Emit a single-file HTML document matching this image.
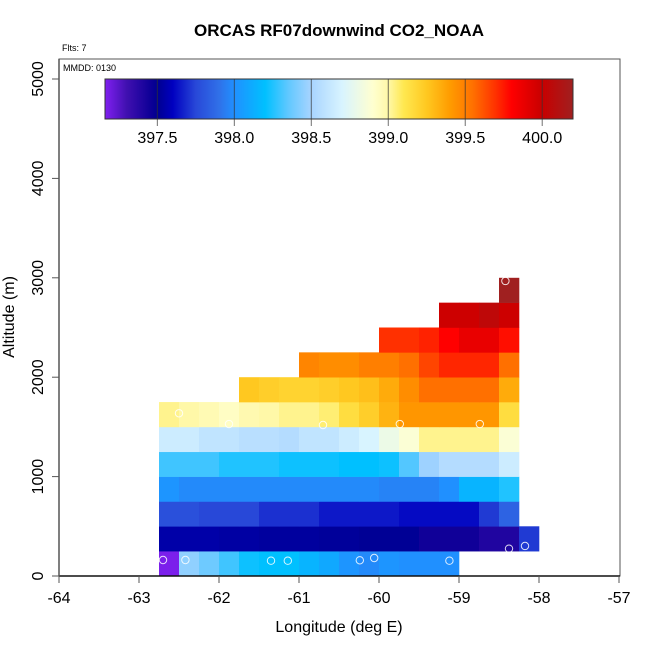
<!DOCTYPE html>
<html><head><meta charset="utf-8"><style>
body{margin:0;background:#fff}
svg text{font-family:"Liberation Sans",sans-serif}
</style></head><body>
<svg id="c" width="650" height="650" xmlns="http://www.w3.org/2000/svg"></svg>
<script>
const lonTicks=[-64,-63,-62,-61,-60,-59,-58,-57];
const altTicks=[0,1000,2000,3000,4000,5000];
const cbTicks=["397.5","398.0","398.5","399.0","399.5","400.0"];
const lonStart=-62.75;
const rowStartCol=[0,0,0,0,0,0,0,4,7,11,14,17];
const row0=[397.17,398.45,398.38,398.3,398.22,398.2,398.2,398.15,398.1,398.02,397.98,398.02,398.0,398.0,398.0];
const row1=[397.55,397.55,397.55,397.54,397.54,397.53,397.53,397.53,397.52,397.52,397.51,397.51,397.51,397.45,397.45,397.45,397.4,397.4,397.72];
const row2=[397.78,397.78,397.75,397.75,397.75,397.7,397.7,397.7,397.65,397.65,397.65,397.65,397.62,397.62,397.62,397.62,397.72,397.85];
const row3=[398.02,397.98,397.98,397.98,397.98,397.98,397.98,397.98,397.98,397.98,397.98,397.96,397.96,397.96,398.0,398.15,398.15,398.25];
const row4=[398.3,398.3,398.3,398.25,398.25,398.25,398.22,398.22,398.22,398.2,398.2,398.22,398.33,398.48,398.55,398.55,398.55,398.65];
const row5=[398.65,398.65,398.6,398.6,398.57,398.57,398.55,398.6,398.6,398.65,398.7,398.8,398.88,399.03,399.03,399.03,399.03,398.88];
const row6=[399.03,399.0,398.97,398.93,398.98,399.0,399.03,399.03,399.06,399.15,399.22,399.32,399.42,399.42,399.42,399.42,399.42,399.15];
const row7=[399.25,399.22,399.2,399.2,399.22,399.25,399.28,399.35,399.45,399.55,399.55,399.55,399.55,399.35];
const row8=[399.48,399.45,399.45,399.5,399.5,399.55,399.65,399.72,399.72,399.72,399.55];
const row9=[399.7,399.7,399.73,399.8,399.88,399.88,399.77];
const row10=[399.98,399.98,400.05,399.98];
const row11=[400.2];
const ptLon=[-58.42,-62.5,-61.875,-60.7,-59.74,-58.74,-58.375,-58.175,-62.7,-62.42,-61.35,-61.14,-60.24,-60.06,-59.12];
const ptAlt=[2968,1637,1529,1519,1529,1529,275,302,161,161,154,154,158,181,154];

const rows=[row0,row1,row2,row3,row4,row5,row6,row7,row8,row9,row10,row11];
const NS="http://www.w3.org/2000/svg";
const svg=document.getElementById('c');
const X=v=>59+(v+64)*80;
const Y=v=>576-v*0.0994;
const cbMin=397.16,cbMax=400.2;
const CB=v=>105+(v-cbMin)/(cbMax-cbMin)*468;
const stops=[[397.16,"#8020F0"],[397.3,"#4010B0"],[397.45,"#100098"],[397.5,"#000090"],[397.6,"#0000C0"],[397.75,"#2848D8"],[397.9,"#3070E8"],[398.0,"#2090FF"],[398.2,"#00C0FF"],[398.35,"#60C8FF"],[398.5,"#A8D4FF"],[398.7,"#D8F4FF"],[398.9,"#FFFFD0"],[399.0,"#FFF8A8"],[399.1,"#FFE850"],[399.25,"#FFC820"],[399.4,"#FF9C00"],[399.55,"#FF7000"],[399.7,"#FF3000"],[399.8,"#FF0000"],[400.0,"#C80000"],[400.2,"#A02020"]];
function hx(h){return [1,3,5].map(i=>parseInt(h.substr(i,2),16));}
function cmap(v){
  if(v<=stops[0][0])return stops[0][1];
  for(let i=1;i<stops.length;i++){if(v<=stops[i][0]){const a=hx(stops[i-1][1]),b=hx(stops[i][1]);const t=(v-stops[i-1][0])/(stops[i][0]-stops[i-1][0]);return "rgb("+a.map((x,k)=>Math.round(x+(b[k]-x)*t)).join(",")+")";}}
  return stops[stops.length-1][1];
}
function mk(tag,attrs,txt){const e=document.createElementNS(NS,tag);for(const k in attrs)e.setAttribute(k,attrs[k]);if(txt!==undefined)e.textContent=txt;svg.appendChild(e);return e;}

rows.forEach((r,ri)=>{r.forEach((v,ci)=>{
  const lon=lonStart+(rowStartCol[ri]+ci)*0.25;
  const e=mk('rect',{x:X(lon),y:Y((ri+1)*250),width:X(lon+0.25)-X(lon)+0.3,height:Y(ri*250)-Y((ri+1)*250)+0.3,fill:cmap(v)});
  
  
});});
ptLon.forEach((l,i)=>{
  const e=mk('circle',{cx:X(l),cy:Y(ptAlt[i]),r:3.7,fill:'none',stroke:'#fff','stroke-width':1,opacity:0.85});
  
  
});
let b=mk('rect',{x:59,y:59,width:561,height:517,fill:'none',stroke:'#555','stroke-width':1});

let ax=mk('line',{x1:59,y1:576,x2:620,y2:576,stroke:'#111','stroke-width':1.5});

let ay=mk('line',{x1:59,y1:59,x2:59,y2:576,stroke:'#555','stroke-width':1.5});

lonTicks.forEach(t=>{
  let l=mk('line',{x1:X(t),y1:576,x2:X(t),y2:583,stroke:'#555'});
  
  let s=mk('text',{x:X(t),y:603,'text-anchor':'middle','font-size':16},String(t));
  
});
altTicks.forEach(t=>{
  let l=mk('line',{x1:52,y1:Y(t),x2:59,y2:Y(t),stroke:'#555'});
  
  let s=mk('text',{x:43,y:Y(t),'text-anchor':'middle','font-size':16,transform:`rotate(-90 43 ${Y(t)})`},String(t));
  
});
const grad=document.createElementNS(NS,'linearGradient');grad.setAttribute('id','g');
grad.setAttribute('gradientUnits','userSpaceOnUse');grad.setAttribute('x1',105);grad.setAttribute('x2',573);grad.setAttribute('y1',0);grad.setAttribute('y2',0);
stops.forEach(s=>{const st=document.createElementNS(NS,'stop');st.setAttribute('offset',((s[0]-cbMin)/(cbMax-cbMin)).toFixed(4));st.setAttribute('stop-color',s[1]);grad.appendChild(st);});
const defs=document.createElementNS(NS,'defs');defs.appendChild(grad);svg.appendChild(defs);
let cb=mk('rect',{x:105,y:79,width:468,height:40,fill:'url(#g)',stroke:'#333','stroke-width':1});

cbTicks.forEach(t=>{
  const x=CB(parseFloat(t));
  let l=mk('line',{x1:x,y1:79,x2:x,y2:126,stroke:'#333','stroke-opacity':0.7});
  
  let s=mk('text',{x:x,y:143,'text-anchor':'middle','font-size':16},t);
  
});
let ti=mk('text',{x:339,y:36,'text-anchor':'middle','font-size':17,'font-weight':'bold'},'ORCAS RF07downwind CO2_NOAA');

let f=mk('text',{x:62,y:51,'font-size':9},'Flts: 7');

let m=mk('text',{x:63,y:71,'font-size':9},'MMDD: 0130');

let xl=mk('text',{x:339,y:632,'text-anchor':'middle','font-size':16},'Longitude (deg E)');

let yl=mk('text',{x:14,y:317,'text-anchor':'middle','font-size':16,transform:'rotate(-90 14 317)'},'Altitude (m)');

</script>
</body></html>
